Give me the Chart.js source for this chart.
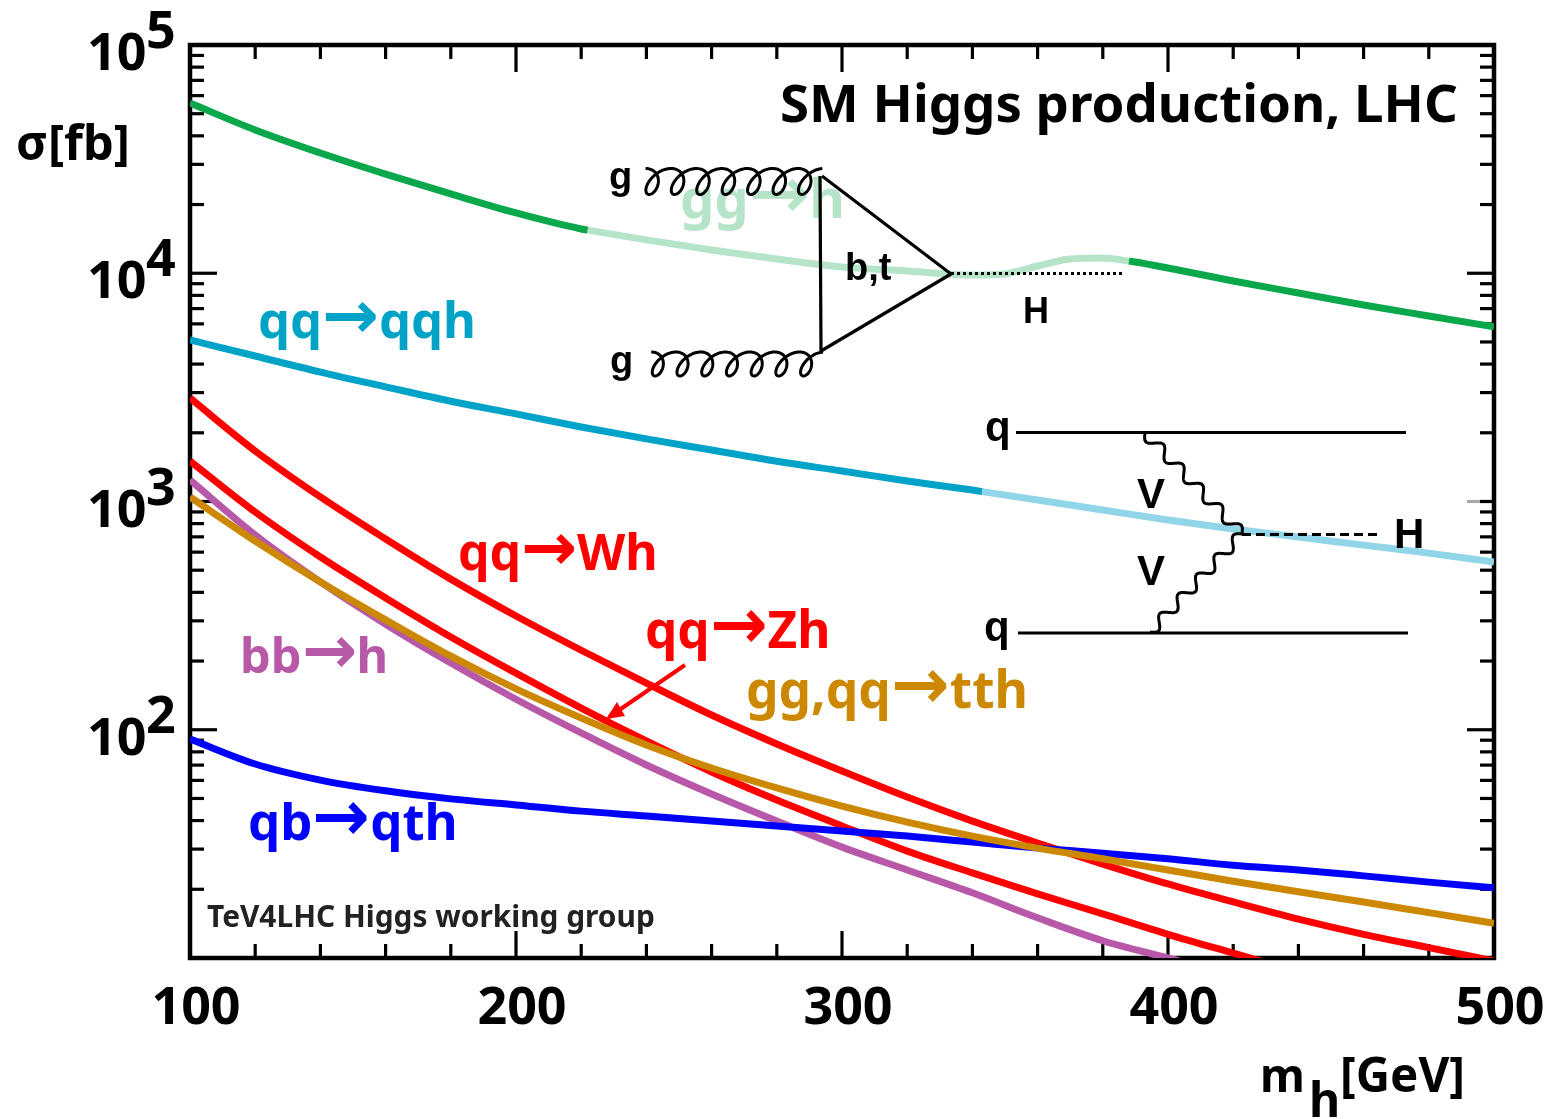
<!DOCTYPE html>
<html><head><meta charset="utf-8">
<style>html,body{margin:0;padding:0;background:#fff}canvas{display:block}
@font-face{font-family:ArrowFace;src:local("DejaVu Sans Bold"),local("DejaVuSans-Bold");unicode-range:U+2192;size-adjust:135%;font-weight:bold}
</style>
<script src="https://cdn.jsdelivr.net/npm/chart.js@4"></script>
</head><body>
<canvas id="c" width="1549" height="1119"></canvas>
<script>
const massGrid=[100,120,140,160,180,200,220,240,260,280,300,320,340,360,380,400,420,440,460,480,500];
const gghMass=[100,120,140,160,180,200,220,222,240,260,280,300,320,340,350,360,370,380,388,390,400,420,440,460,480,500];
const gghXsec=[55700,42450,33650,27200,22250,18370,15630,15450,14000,12650,11540,10650,10230,9820,9930,10760,11540,11670,11300,11200,10540,9250,8190,7260,6500,5820];
const vbfMass=[100,120,140,160,180,200,220,240,260,280,300,320,340,343,360,380,400,420,440,460,480,500];
const vbfXsec=[5100,4340,3690,3180,2750,2420,2120,1880,1680,1500,1360,1230,1122,1105,1016,918,830,758,699,644,594,543];
const whXsec=[2840,1665,1047,685,457,315,223,160,116,86.6,65.9,50.7,39.8,31.9,25.8,21.1,17.6,14.8,12.7,11.1,9.7];
const zhXsec=[1505,899,571,378,255,177,124.5,89.3,65.3,49.2,37.9,29.4,23.6,19.1,15.6,12.7,10.5,8.7];
const bbhXsec=[1242,713,444,290,196,136,96.8,70.1,52.3,39.8,30.6,24.3,19.3,15.0,11.9,10.0,8.4];
const tthXsec=[1047,671,444,303,210,151,112.6,85.8,68.0,55.6,46.3,39.4,34.2,30.3,27.2,24.3,21.7,19.5,17.6,15.8,14.2];
const qthXsec=[91.1,70.8,60.2,54.0,49.8,46.8,44.0,41.9,39.8,37.9,36.0,34.2,32.2,30.3,28.8,27.2,25.5,24.3,22.9,21.5,20.3];
const xTicks=[100,200,300,400,500];
const yExponents=[5,4,3,2];

const GREEN='#0aa84a',GREEN_L='#b5e4c8',CYAN='#00a3c8',CYAN_L='#90d5e8',RED='#ff0000',PURPLE='#b858a8',ORANGE='#cc8800',BLUE='#0000ff';
const pts=(xs,ys)=>ys.map((y,i)=>({x:xs[i],y}));
const OS='ArrowFace,"Noto Sans"',LS='"Liberation Sans"';

function line(label,xs,ys,color,extra){
  return Object.assign({label,data:pts(xs,ys),borderColor:color,borderWidth:7,pointRadius:0,showLine:true,fill:false,cubicInterpolationMode:'monotone',borderCapStyle:'butt'},extra||{});
}
function text(c,s,x,y,font,size,color,w){
  c.font='bold '+size+'px '+font;
  if(w){size=size*w/c.measureText(s).width;c.font='bold '+size+'px '+font;}
  c.fillStyle=color;c.textAlign='left';c.textBaseline='alphabetic';c.fillText(s,x,y);
}
function seg(c,a,b,d,lw){c.beginPath();c.moveTo(a[0],a[1]);c.lineTo(b[0],b[1]);c.lineWidth=lw||3.2;c.setLineDash(d||[]);c.strokeStyle='#000';c.stroke();c.setLineDash([]);}
function gluon(c,x0,x1,yc,n,b){
  const a=(x1-x0)/(2*Math.PI*n);c.beginPath();
  for(let t=Math.PI;t<=Math.PI+2*Math.PI*n+1e-6;t+=0.1){
    const u=t-Math.PI,dy=b*Math.cos(t),x=x0+a*u-b*0.85*Math.sin(t)-0.35*dy,y=yc+dy;
    if(u===0)c.moveTo(x,y);else c.lineTo(x,y);
  }
  c.lineWidth=3;c.strokeStyle='#000';c.stroke();
}
function wiggle(c,p,q,n,A){
  const dx=q[0]-p[0],dy=q[1]-p[1],L=Math.hypot(dx,dy),nx=-dy/L,ny=dx/L;c.beginPath();
  for(let i=0;i<=300;i++){const t=i/300,o=A*Math.sin(2*Math.PI*n*t),x=p[0]+dx*t+nx*o,y=p[1]+dy*t+ny*o;
    if(i===0)c.moveTo(x,y);else c.lineTo(x,y);}
  c.lineWidth=3;c.strokeStyle='#000';c.stroke();
}
const frame={id:'frame',beforeDatasetsDraw(ch){
  const c=ch.ctx,A=ch.chartArea,X=ch.scales.x,Y=ch.scales.y;c.save();c.strokeStyle='#000';
  const t=(x0,y0,x1,y1,col,w)=>{c.beginPath();c.moveTo(x0,y0);c.lineTo(x1,y1);c.strokeStyle=col||'#000';c.lineWidth=w||3.2;c.stroke();};
  for(let m=120;m<500;m+=20){const px=X.getPixelForValue(m),L=m%100===0?27:14;t(px,A.bottom,px,A.bottom-L);t(px,A.top,px,A.top+L);}
  for(let e=1;e<5;e++)for(let k=1;k<10;k++){
    const v=k*Math.pow(10,e);if(v<=10)continue;const py=Y.getPixelForValue(v),L=k===1?27:14;
    t(A.left,py,A.left+L,py);
    if(e===3&&k===1){t(A.right,py,A.right-L,py,'#aaa');t(A.right,py,A.right-14,py);}
    else t(A.right,py,A.right-L,py);
  }
  c.lineWidth=4.5;c.strokeStyle='#000';c.strokeRect(A.left,A.top,A.right-A.left,A.bottom-A.top);
  c.restore();
}};
const overlay={id:'overlay',afterDatasetsDraw(ch){
  const c=ch.ctx,Y=ch.scales.y;c.save();
  yExponents.forEach(e=>{const py=Y.getPixelForValue(Math.pow(10,e));
    text(c,'10',87,py+25,OS,52,'#000');text(c,String(e),146,py+3,OS,52,'#000');});
  text(c,'σ[fb]',16,160,OS,48,'#000',114);
  text(c,'m',1260,1092,OS,46,'#000');text(c,'h',1309,1117,OS,48,'#000');text(c,'[GeV]',1340,1092,OS,44,'#000',125);
  text(c,'SM Higgs production, LHC',780,122,OS,50,'#000',678);
  text(c,'TeV4LHC Higgs working group',207,927,OS,30,'#222',448);
  text(c,'gg→h',680,218,OS,48,GREEN_L,165);
  text(c,'qq→qqh',258,338,OS,48,CYAN,218);
  text(c,'qq→Wh',458,570,OS,48,RED,200);
  text(c,'qq→Zh',645,648,OS,48,RED,185);
  text(c,'bb→h',240,673,OS,48,PURPLE,148);
  text(c,'gg,qq→tth',746,708,OS,48,ORANGE,281);
  text(c,'qb→qth',248,840,OS,48,BLUE,209);
  c.strokeStyle=RED;c.lineWidth=4;c.beginPath();c.moveTo(685,665);c.lineTo(609,717);c.stroke();
  c.fillStyle=RED;c.beginPath();c.moveTo(606,719);c.lineTo(617,702);c.lineTo(625,716);c.closePath();c.fill();
  gluon(c,641,819,181.5,7,13);gluon(c,647,820,364,7,12);
  seg(c,[820,176],[821,351]);seg(c,[822,176],[951,274]);seg(c,[821,351],[951,274]);
  seg(c,[951,273.5],[1122,273.5],[3,3]);
  text(c,'g',609,189,LS,38,'#000');text(c,'g',610,373,LS,38,'#000');
  text(c,'b,t',845,280,LS,38,'#000');text(c,'H',1023,323,LS,36,'#000');
  seg(c,[1016,432.5],[1406,432.5]);seg(c,[1018,633],[1408,633]);
  wiggle(c,[1145,433],[1242,534],5,5.5);wiggle(c,[1150,632],[1242,534],5,5.5);
  seg(c,[1242,534.5],[1377,534.5],[9,5]);
  text(c,'q',985,441,LS,42,'#000');text(c,'q',984,641,LS,42,'#000');
  text(c,'V',1137,508,LS,42,'#000');text(c,'V',1137,585,LS,42,'#000');text(c,'H',1394,548,LS,42,'#000');
  c.restore();
}};
function build(){
new Chart(document.getElementById('c'),{type:'scatter',
  data:{datasets:[
    line('gg→h',gghMass,gghXsec,GREEN,{segment:{borderColor:s=>(s.p0.parsed.x>=222&&s.p0.parsed.x<388)?GREEN_L:GREEN}}),
    line('qq→qqh',vbfMass,vbfXsec,CYAN,{segment:{borderColor:s=>s.p0.parsed.x>=343?CYAN_L:CYAN}}),
    line('bb→h',massGrid,bbhXsec,PURPLE),
    line('qq→Wh',massGrid,whXsec,RED),
    line('qq→Zh',massGrid,zhXsec,RED),
    line('qb→qth',massGrid,qthXsec,BLUE),
    line('gg,qq→tth',massGrid,tthXsec,ORANGE)
  ].map((d,i,a)=>Object.assign(d,{order:a.length-i}))},
  options:{responsive:false,animation:false,devicePixelRatio:1,
    layout:{padding:{top:45,right:55,left:0,bottom:0}},
    plugins:{legend:{display:false},tooltip:{enabled:false},title:{display:false}},
    scales:{
      x:{type:'linear',min:100,max:500,grid:{display:false},border:{display:false},
        afterBuildTicks:s=>{s.ticks=xTicks.map(v=>({value:v}));},
        afterFit:s=>{s.height=161;s.paddingRight=0;s.paddingLeft=0;},
        ticks:{font:{family:'"Noto Sans"',weight:'bold',size:52},color:'#000',padding:12,labelOffset:6,maxRotation:0,autoSkip:false,callback:v=>String(v)}},
      y:{type:'logarithmic',min:10,max:100000,grid:{display:false},border:{display:false},
        afterFit:s=>{s.width=190;s.paddingTop=0;s.paddingBottom=0;},ticks:{display:false}}
    }},
  plugins:[frame,overlay]});
}
const faces=[document.fonts.load('bold 48px ArrowFace','→'),document.fonts.load('bold 48px "Noto Sans"','A')];
Promise.all(faces).then(build,build);
</script>
</body></html>
